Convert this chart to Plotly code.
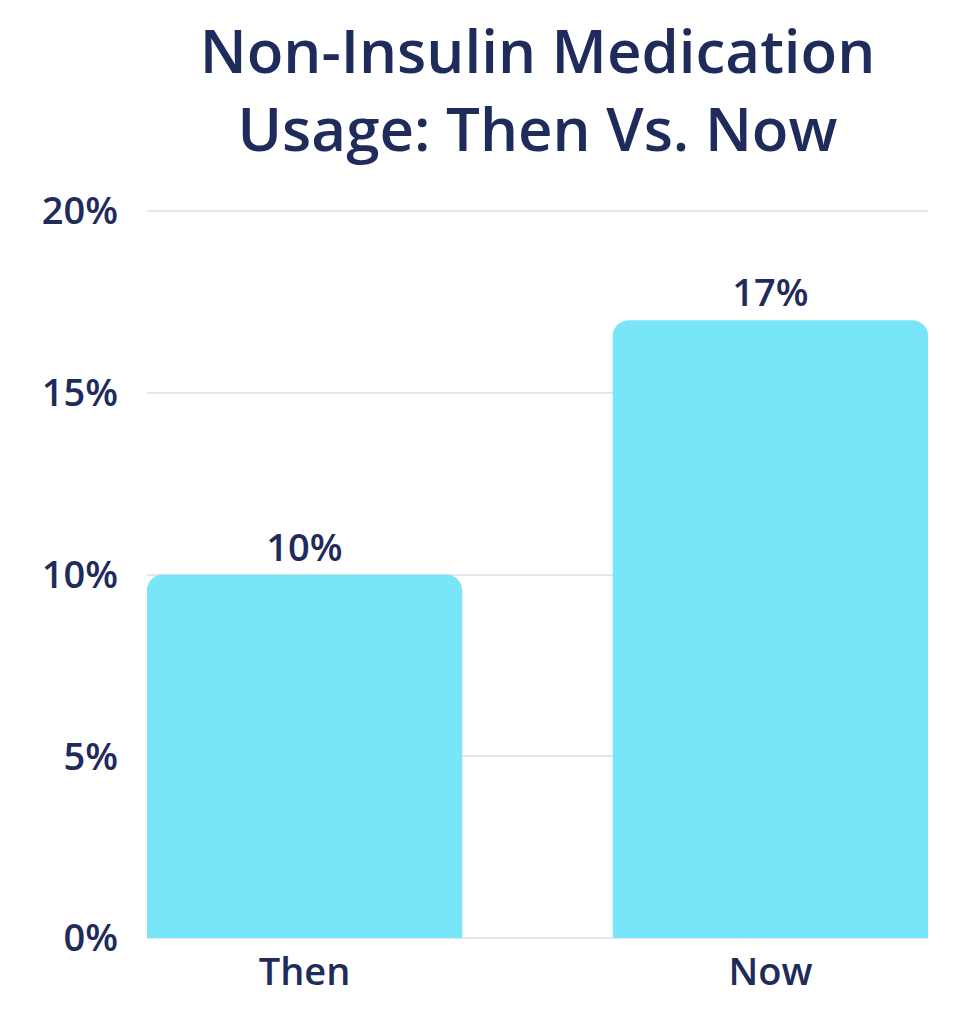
import plotly.graph_objects as go

# data
periods = ["Then", "Now"]
usage_pct = [10, 17]
usage_labels = ["10%", "17%"]
y_ticks = [0, 5, 10, 15, 20]
y_tick_labels = ["0%", "5%", "10%", "15%", "20%"]

navy = "#1f2b5b"
cyan = "#79e5f9"
font_name = "Open Sans"
label_font = {"size": 38, "color": navy, "family": font_name, "weight": 600}

fig = go.Figure(
    data=[
        go.Bar(
            x=periods,
            y=usage_pct,
            text=usage_labels,
            textposition="outside",
            textfont=label_font,
            marker={"color": cyan, "line": {"width": 0}},
            width=0.677,
            cliponaxis=False,
            hoverinfo="skip",
        )
    ]
)

# page body has an 8px margin, so the figure is 16px smaller than the window
fig.update_layout(
    width=958,
    height=1016,
    margin={"l": 139, "r": 38, "t": 202, "b": 86},
    paper_bgcolor="white",
    plot_bgcolor="white",
    showlegend=False,
    barcornerradius=16,
    font={"family": font_name, "color": navy},
    title={
        "text": "Non-Insulin Medication<br>Usage: Then Vs. Now",
        "font": {"size": 60, "color": navy, "family": font_name, "weight": 600},
        "x": 0.5,
        "xref": "paper",
        "xanchor": "center",
        "y": 1 - 65 / 1016,
        "yref": "container",
        "yanchor": "middle",
    },
)

fig.update_xaxes(
    type="category",
    range=[-0.338, 1.338],
    showgrid=False,
    showline=False,
    zeroline=False,
    ticks="",
    ticklabelstandoff=8,
    tickfont=label_font,
)

fig.update_yaxes(
    range=[0, 20.03],
    tickvals=y_ticks,
    ticktext=y_tick_labels,
    showgrid=True,
    gridcolor="#e4e6ee",
    gridwidth=1.5,
    zeroline=True,
    zerolinecolor="#e4e6ee",
    zerolinewidth=1.5,
    showline=False,
    ticks="",
    ticklabelstandoff=28,
    tickfont=label_font,
)

fig.write_html("out.html")
